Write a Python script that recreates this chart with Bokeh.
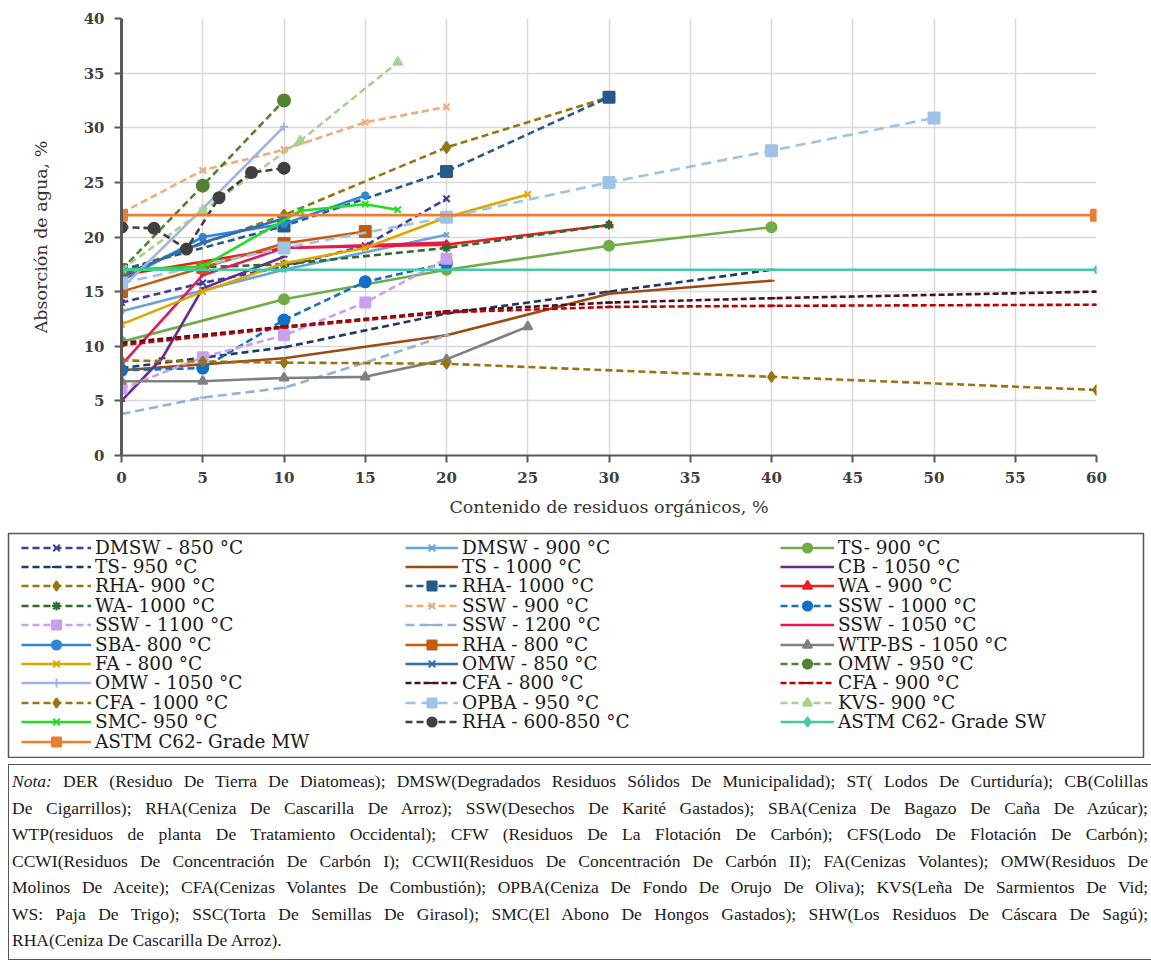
from bokeh.plotting import figure
from bokeh.models import Legend, LegendItem, Div, FixedTicker, Range1d
from bokeh.layouts import column
from bokeh.embed import file_html
from bokeh.resources import INLINE

# ---------------- data ----------------
x_dmsw850 = [0, 5, 10, 15, 20];            y_dmsw850 = [14.0, 15.8, 17.3, 19.2, 23.5]
x_dmsw900 = [0, 10, 20];                   y_dmsw900 = [13.2, 17.0, 20.2]
x_ts900 = [0, 10, 20, 30, 40];             y_ts900 = [10.4, 14.3, 17.0, 19.2, 20.9]
x_ts950 = [0, 10, 20, 30, 40];             y_ts950 = [8.0, 9.9, 13.0, 15.0, 17.0]
x_ts1000 = [0, 10, 20, 30, 40];            y_ts1000 = [7.8, 8.9, 11.0, 14.8, 16.0]
x_cb1050 = [0, 2.5, 5, 10];                y_cb1050 = [5.0, 8.9, 15.3, 18.2]
x_rha900 = [0, 10, 20, 30];                y_rha900 = [16.8, 22.0, 28.2, 32.8]
x_rha1000 = [0, 10, 20, 30];               y_rha1000 = [17.0, 21.0, 26.0, 32.8]
x_wa900 = [0, 10, 20, 30];                 y_wa900 = [16.5, 19.0, 19.3, 21.1]
x_wa1000 = [0, 10, 20, 30];                y_wa1000 = [17.0, 17.5, 19.0, 21.1]
x_ssw900 = [0, 5, 10, 15, 20];             y_ssw900 = [22.2, 26.1, 28.0, 30.5, 31.9]
x_ssw1000 = [0, 5, 10, 15, 20];            y_ssw1000 = [7.8, 8.0, 12.4, 15.9, 17.6]
x_ssw1100 = [0, 5, 10, 15, 20];            y_ssw1100 = [6.1, 9.0, 11.0, 14.0, 18.0]
x_ssw1200 = [0, 5, 10, 15, 20];            y_ssw1200 = [3.8, 5.3, 6.2, 8.5, 11.0]
x_ssw1050 = [0, 5, 10, 20];                y_ssw1050 = [8.3, 16.5, 19.0, 19.5]
x_sba800 = [0, 5, 10, 15];                 y_sba800 = [16.0, 20.0, 21.2, 23.8]
x_rha800 = [0, 5, 10, 15];                 y_rha800 = [15.0, 17.2, 19.4, 20.5]
x_wtp1050 = [0, 5, 10, 15, 20, 25];        y_wtp1050 = [6.8, 6.8, 7.1, 7.2, 8.8, 11.8]
x_fa800 = [0, 5, 10, 15, 20, 25];          y_fa800 = [12.0, 15.0, 17.6, 19.0, 21.8, 23.9]
x_omw850 = [0, 5, 10];                     y_omw850 = [16.5, 19.5, 21.7]
x_omw950 = [0, 5, 10];                     y_omw950 = [17.0, 24.7, 32.5]
x_omw1050 = [0, 5, 10];                    y_omw1050 = [15.3, 22.6, 30.1]
x_cfa800 = [0, 10, 20, 30, 40, 60];        y_cfa800 = [10.3, 11.8, 13.2, 14.0, 14.4, 15.0]
x_cfa900 = [0, 10, 20, 30, 40, 60];        y_cfa900 = [10.1, 11.7, 13.1, 13.6, 13.7, 13.8]
x_cfa1000 = [0, 5, 10, 20, 40, 60];        y_cfa1000 = [8.7, 8.6, 8.5, 8.4, 7.2, 6.0]
x_opba950 = [0, 10, 20, 30, 40, 50];       y_opba950 = [15.8, 19.0, 21.8, 25.0, 27.9, 30.9]
x_kvs900 = [0, 5, 11, 17];                 y_kvs900 = [17.0, 22.4, 28.8, 36.0]
x_smc950 = [0, 5, 11, 15, 17];             y_smc950 = [17.0, 17.3, 22.4, 23.0, 22.5]
x_rha600 = [0, 2, 4, 6, 8, 10];            y_rha600 = [20.9, 20.8, 18.9, 23.6, 25.9, 26.3]
x_astm_sw = [0, 60];                       y_astm_sw = [17.0, 17.0]
x_astm_mw = [0, 60];                       y_astm_mw = [22.0, 22.0]

x_ticks = [0, 5, 10, 15, 20, 25, 30, 35, 40, 45, 50, 55, 60]
y_ticks = [0, 5, 10, 15, 20, 25, 30, 35, 40]

labels = ["DMSW - 850 °C", "DMSW - 900 °C", "TS- 900 °C",
          "TS- 950 °C", "TS - 1000 °C", "CB - 1050 °C",
          "RHA- 900 °C", "RHA- 1000 °C", "WA - 900 °C",
          "WA- 1000 °C", "SSW - 900 °C", "SSW - 1000 °C",
          "SSW - 1100 °C", "SSW - 1200 °C", "SSW - 1050 °C",
          "SBA- 800 °C", "RHA - 800 °C", "WTP-BS - 1050 °C",
          "FA - 800 °C", "OMW - 850 °C", "OMW - 950 °C",
          "OMW - 1050 °C", "CFA - 800 °C", "CFA - 900 °C",
          "CFA - 1000 °C", "OPBA - 950 °C", "KVS- 900 °C",
          "SMC- 950 °C", "RHA - 600-850 °C", "ASTM C62- Grade SW",
          "ASTM C62- Grade MW"]

xs = [x_dmsw850, x_dmsw900, x_ts900, x_ts950, x_ts1000, x_cb1050, x_rha900, x_rha1000,
      x_wa900, x_wa1000, x_ssw900, x_ssw1000, x_ssw1100, x_ssw1200, x_ssw1050, x_sba800,
      x_rha800, x_wtp1050, x_fa800, x_omw850, x_omw950, x_omw1050, x_cfa800, x_cfa900,
      x_cfa1000, x_opba950, x_kvs900, x_smc950, x_rha600, x_astm_sw, x_astm_mw]
ys = [y_dmsw850, y_dmsw900, y_ts900, y_ts950, y_ts1000, y_cb1050, y_rha900, y_rha1000,
      y_wa900, y_wa1000, y_ssw900, y_ssw1000, y_ssw1100, y_ssw1200, y_ssw1050, y_sba800,
      y_rha800, y_wtp1050, y_fa800, y_omw850, y_omw950, y_omw1050, y_cfa800, y_cfa900,
      y_cfa1000, y_opba950, y_kvs900, y_smc950, y_rha600, y_astm_sw, y_astm_mw]

# style: (color, dash, marker, marker size)
styles = [
    ("#3b3fa0", "7 4", "x", 9), ("#6aa3d8", "solid", "x", 7), ("#70ad47", "solid", "circle", 10),
    ("#1f3864", "7 4", "dash", 8), ("#9e4a12", "solid", "dash", 6), ("#6a2a90", "solid", "dash", 7),
    ("#9a7410", "7 4", "diamond", 11), ("#245a8c", "7 4", "square", 11), ("#f01c1c", "solid", "triangle", 8),
    ("#2d6a2d", "7 4", "asterisk", 9), ("#f2aa7a", "7 4", "x", 9), ("#1070c8", "7 4", "circle", 11),
    ("#c9a0f0", "7 4", "square", 10), ("#8fb2df", "9 5", "dash", 6), ("#e8175d", "solid", "dash", 6),
    ("#2f86d8", "solid", "circle", 6), ("#c55a11", "solid", "square", 11), ("#808080", "solid", "triangle", 9),
    ("#dca800", "solid", "x", 9), ("#2e6fb4", "solid", "x", 8), ("#548235", "7 4", "circle", 12),
    ("#a0b4e4", "solid", "cross", 8), ("#4a0f22", "6 3", "dash", 8), ("#c00000", "6 3", "dash", 8),
    ("#9a7410", "7 4", "diamond", 10), ("#9dc3e6", "10 6", "square", 11), ("#a9d18e", "7 4", "triangle", 9),
    ("#22dd22", "solid", "x", 9), ("#404040", "7 4", "circle", 11), ("#45c9a5", "solid", "diamond", 8),
    ("#ed7d31", "solid", "square", 11),
]

SERIF = "Liberation Serif"
WIDE_SERIF = "DejaVu Serif"

# ---------------- chart ----------------
p = figure(width=1151, height=528, x_range=Range1d(0, 60), y_range=Range1d(0, 40),
           output_backend="svg", toolbar_location=None, frame_align=False,
           min_border_left=121, min_border_right=55, min_border_top=18, min_border_bottom=73)
p.outline_line_color = None

p.xaxis.ticker = FixedTicker(ticks=x_ticks)
p.yaxis.ticker = FixedTicker(ticks=y_ticks)
p.xgrid.ticker = FixedTicker(ticks=x_ticks)
p.ygrid.ticker = FixedTicker(ticks=y_ticks)
for g in (p.xgrid, p.ygrid):
    g.grid_line_color = "#d9d9d9"
    g.grid_line_width = 1.5

for ax in (p.xaxis, p.yaxis):
    ax.axis_line_color = "#595959"
    ax.major_tick_line_color = "#595959"
    ax.major_tick_line_width = 2
    ax.major_tick_out = 7
    ax.major_tick_in = 0
    ax.minor_tick_line_color = None
    ax.major_label_text_font = WIDE_SERIF
    ax.major_label_text_font_size = "15px"
    ax.major_label_text_font_style = "bold"
    ax.major_label_text_color = "#404040"
    ax.axis_label_text_font = WIDE_SERIF
    ax.axis_label_text_font_style = "normal"
    ax.axis_label_text_color = "#333333"
    ax.axis_label_text_font_size = "17.5px"
p.yaxis.axis_line_width = 3
p.xaxis.axis_line_width = 2
p.yaxis.axis_label = "Absorción de agua, %"
p.xaxis.axis_label = "Contenido de residuos orgánicos, %"
p.yaxis.major_label_standoff = 10
p.xaxis.major_label_standoff = 9
p.yaxis.axis_label_standoff = 30
p.xaxis.axis_label_standoff = 11

# ---------------- legend panel (own figure, boxed by its outline) ----------------
FRAME_TOP, FRAME_BOTTOM = 533 - 528, 757 - 528
lf = figure(width=1151, height=230, x_range=Range1d(-200, -199), y_range=Range1d(-200, -199),
            output_backend="svg", toolbar_location=None, x_axis_type=None, y_axis_type=None,
            frame_align=False,
            min_border_left=8, min_border_right=8, min_border_top=FRAME_TOP,
            min_border_bottom=230 - FRAME_BOTTOM)
lf.grid.visible = False
lf.outline_line_color = "#555555"
lf.outline_line_width = 1.5

items = []
for lab, xv, yv, (col, dash, mk, ms) in zip(labels, xs, ys, styles):
    lr = p.line(xv, yv, line_color=col, line_width=2.6, line_dash=dash)
    sr = p.scatter(xv, yv, marker=mk, size=ms, fill_color=col, line_color=col, line_width=2)
    # same series in the legend panel (outside its visible range) to feed the legend glyphs
    llr = lf.line(xv, yv, line_color=col, line_width=2.6, line_dash=dash)
    lsr = lf.scatter(xv, yv, marker=mk, size=min(ms, 8), fill_color=col, line_color=col, line_width=2)
    items.append(LegendItem(label=lab, renderers=[llr, lsr]))

# one small legend per entry: 3 columns, row-major like the reference
col_left = [21, 405, 780]
glyph_w = [70, 53, 54]
ITEM_H = 23
ROW0, PITCH = 547, 19.4
frame_h = FRAME_BOTTOM - FRAME_TOP
for k, it in enumerate(items):
    r, c = divmod(k, 3)
    center_rel = ROW0 + r * PITCH - 533
    lg = Legend(items=[it], location=(col_left[c] - 8, frame_h - center_rel - ITEM_H / 2),
                orientation="vertical", padding=0, margin=0, spacing=0,
                glyph_width=glyph_w[c], glyph_height=ITEM_H, label_height=ITEM_H,
                label_standoff=4, border_line_color=None, background_fill_alpha=0,
                label_text_font=WIDE_SERIF, label_text_font_size="18.5px",
                label_text_color="#1a1a1a", label_text_baseline="middle")
    lf.add_layout(lg, "center")

# ---------------- note ----------------
note_lines = [
    "<i>Nota:</i> DER (Residuo De Tierra De Diatomeas); DMSW(Degradados Residuos Sólidos De Municipalidad); ST( Lodos De Curtiduría); CB(Colillas",
    "De Cigarrillos); RHA(Ceniza De Cascarilla De Arroz); SSW(Desechos De Karité Gastados); SBA(Ceniza De Bagazo De Caña De Azúcar);",
    "WTP(residuos de planta De Tratamiento Occidental); CFW (Residuos De La Flotación De Carbón); CFS(Lodo De Flotación De Carbón);",
    "CCWI(Residuos De Concentración De Carbón I); CCWII(Residuos De Concentración De Carbón II); FA(Cenizas Volantes); OMW(Residuos De",
    "Molinos De Aceite); CFA(Cenizas Volantes De Combustión); OPBA(Ceniza De Fondo De Orujo De Oliva); KVS(Leña De Sarmientos De Vid;",
    "WS: Paja De Trigo); SSC(Torta De Semillas De Girasol); SMC(El Abono De Hongos Gastados); SHW(Los Residuos De Cáscara De Sagú);",
    "RHA(Ceniza De Cascarilla De Arroz).",
]
line_html = []
for i, t in enumerate(note_lines):
    last = i == len(note_lines) - 1
    align = "left" if last else "justify"
    line_html.append(
        f'<div style="height:26.5px;line-height:26.5px;text-align:justify;'
        f'text-align-last:{align};white-space:nowrap;">{t}</div>')
note_html = (
    '<div style="position:relative;width:1151px;height:215px;overflow:hidden;background:white;">'
    '<div style="position:absolute;left:8px;top:6px;width:1170px;height:196px;'
    'border:1.5px solid #555;box-sizing:border-box;"></div>'
    f'<div style="position:absolute;left:12px;top:10px;width:1136px;font-family:\'{SERIF}\';'
    'font-size:17.5px;color:#1a1a1a;">' + "".join(line_html) + '</div></div>'
)
note = Div(text=note_html, width=1151, height=215, margin=0)

layout = column(p, lf, note, spacing=0)
open("out.html", "w").write(file_html(layout, INLINE))
